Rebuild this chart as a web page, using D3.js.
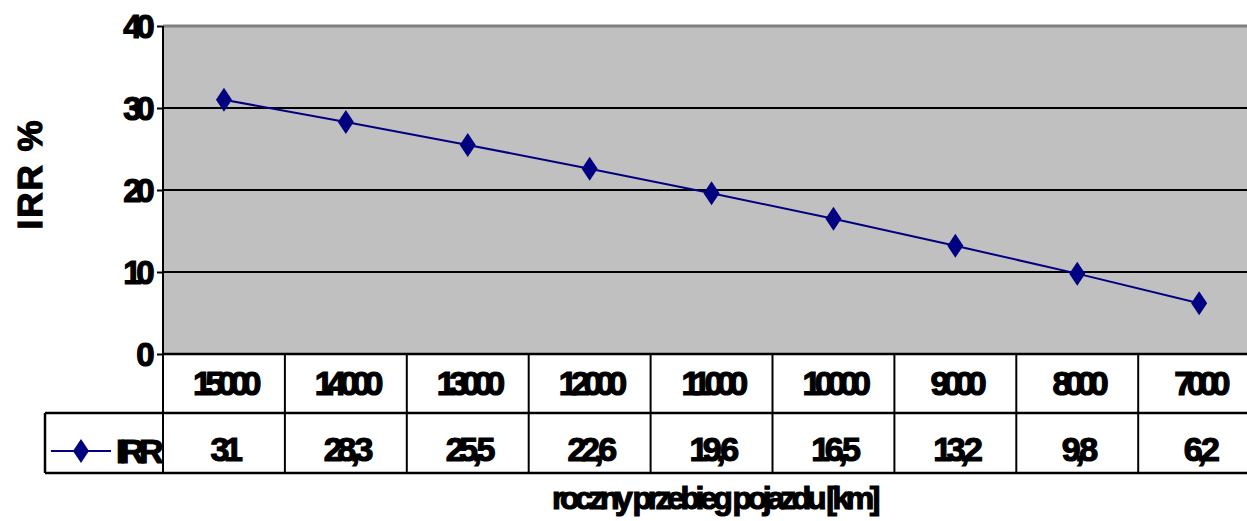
<!DOCTYPE html>
<html><head><meta charset="utf-8">
<script src="https://cdn.jsdelivr.net/npm/d3@7"></script>
<style>
html,body{margin:0;padding:0;background:#fff;}
svg{display:block;}
text{font-family:"Liberation Sans",Arial,sans-serif;font-weight:bold;fill:#000;stroke:#000;stroke-width:1.2px;}
</style></head>
<body>
<svg id="c" width="1247" height="521"></svg>
<script>
const categories = ["15000","14000","13000","12000","11000","10000","9000","8000","7000"];
const irrValues = [31, 28.3, 25.5, 22.6, 19.6, 16.5, 13.2, 9.8, 6.2];
const valueLabels = ["31","28,3","25,5","22,6","19,6","16,5","13,2","9,8","6,2"];
const yTicks = [0, 10, 20, 30, 40];
const seriesName = "IRR";
const yTitle = "IRR %";
const xTitle = "roczny przebieg pojazdu [km]";

(function () {
const svg = d3.select("#c");
const pL = 163, pT = 26, pB = 354, colW = 121.9;
const pR = pL + colW * categories.length;
const row1 = 413, row2 = 473, legendLeft = 45;

const x = d3.scaleBand().domain(categories).range([pL, pR]).padding(0);
const y = d3.scaleLinear().domain([0, 40]).range([pB, pT]);

svg.append("rect").attr("x", pL).attr("y", pT).attr("width", pR - pL).attr("height", pB - pT).attr("fill", "#C0C0C0");
svg.append("line").attr("x1", pL).attr("x2", pR).attr("y1", pT).attr("y2", pT).attr("stroke", "#808080").attr("stroke-width", 3);

svg.selectAll("line.grid").data(yTicks.filter(d => d > 0 && d < 40)).enter().append("line")
  .attr("x1", pL).attr("x2", pR).attr("y1", d => y(d)).attr("y2", d => y(d))
  .attr("stroke", "#000").attr("stroke-width", 2);

const yAxis = d3.axisLeft(y).tickValues(yTicks).tickSize(6).tickPadding(8).tickFormat(d3.format("d"));
const ga = svg.append("g").attr("transform", `translate(${pL},0)`).call(yAxis);
ga.select(".domain").remove();
ga.selectAll(".tick line").attr("stroke", "#000").attr("stroke-width", 2);
ga.selectAll(".tick text").attr("font-size", 33).attr("letter-spacing", -5.5).attr("dy", "0.36em")
  .style("font-family", '"Liberation Sans",Arial,sans-serif').style("font-weight", "bold").attr("fill", "#000");

svg.append("line").attr("x1", pL).attr("x2", pL).attr("y1", pT).attr("y2", row2).attr("stroke", "#000").attr("stroke-width", 2);

const tbl = svg.append("g").attr("stroke", "#000").attr("stroke-width", 2.5);
tbl.append("line").attr("x1", pL).attr("x2", pR).attr("y1", pB).attr("y2", pB);
tbl.append("line").attr("x1", legendLeft).attr("x2", pR).attr("y1", row1).attr("y2", row1);
tbl.append("line").attr("x1", legendLeft).attr("x2", pR).attr("y1", row2).attr("y2", row2);
tbl.append("line").attr("x1", legendLeft).attr("x2", legendLeft).attr("y1", row1).attr("y2", row2);
tbl.selectAll("line.col").data(categories).enter().append("line")
  .attr("x1", d => x(d) + x.bandwidth()).attr("x2", d => x(d) + x.bandwidth())
  .attr("y1", pB).attr("y2", row2).attr("stroke-width", 2);

svg.selectAll("text.cat").data(categories).enter().append("text")
  .attr("x", d => x(d) + x.bandwidth() / 2).attr("y", 395)
  .attr("text-anchor", "middle").attr("font-size", 34).attr("letter-spacing", -6.5).text(d => d);
svg.selectAll("text.val").data(categories).enter().append("text")
  .attr("x", d => x(d) + x.bandwidth() / 2).attr("y", 461)
  .attr("text-anchor", "middle").attr("font-size", 34).attr("letter-spacing", -5.5).text((d, i) => valueLabels[i]);

function diamondPath(hw, hh) { return `M0,${-hh}L${hw},0L0,${hh}L${-hw},0Z`; }
svg.append("line").attr("x1", 51).attr("x2", 111).attr("y1", 451).attr("y2", 451).attr("stroke", "#000080").attr("stroke-width", 2);
svg.append("path").attr("d", diamondPath(8, 12)).attr("transform", "translate(81,451)").attr("fill", "#000080");
svg.append("text").attr("x", 116).attr("y", 463).attr("font-size", 34).attr("letter-spacing", -5.5).text(seriesName);

const line = d3.line().x((d, i) => x(categories[i]) + x.bandwidth() / 2).y(d => y(d));
svg.append("path").datum(irrValues).attr("d", line).attr("fill", "none").attr("stroke", "#000080").attr("stroke-width", 2);
svg.selectAll("path.pt").data(irrValues).enter().append("path")
  .attr("d", diamondPath(8, 12))
  .attr("transform", (d, i) => `translate(${x(categories[i]) + x.bandwidth() / 2},${y(d)})`)
  .attr("fill", "#000080");

svg.append("text").attr("transform", "translate(42,174) rotate(-90)").attr("text-anchor", "middle")
  .attr("font-size", 35).attr("letter-spacing", 2).text(yTitle);
svg.append("text").attr("x", 714).attr("y", 509).attr("text-anchor", "middle")
  .attr("font-size", 32).attr("letter-spacing", -4.5).text(xTitle);
})();
</script>
</body></html>
